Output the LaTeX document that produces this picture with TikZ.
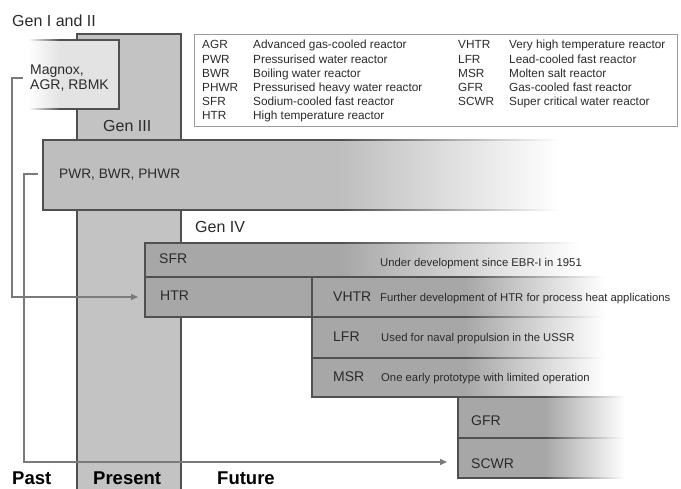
\documentclass[tikz,border=0pt]{standalone}
\usepackage{fontspec}
\setmainfont{Liberation Sans}
\usetikzlibrary{arrows.meta}
\definecolor{colfill}{HTML}{C3C3C3}
\definecolor{iiifill}{HTML}{BEBEBE}
\definecolor{ivfill}{HTML}{A7A7A7}
\definecolor{ifill}{HTML}{E3E3E3}
\definecolor{bcol}{HTML}{505050}
\definecolor{lcol}{HTML}{7A7A7A}
\definecolor{legcol}{HTML}{9A9A9A}
\definecolor{tcol}{HTML}{2A2A2A}
% #1 x0, #2 fade start, #3 fade end, #4 top, #5 bottom, #6 fill colour
\newcommand\myfadebar[6]{%
  \fill[#6] (#1,#4) rectangle (#2,#5);
  \shade[left color=#6, right color=white] (#2,#4) rectangle (#3,#5);
  \draw[bline] (#2,#4) -- (#1,#4) -- (#1,#5) -- (#2,#5);
  \shade[left color=bcol, right color=white] (#2,{#4-0.55}) rectangle (#3,{#4+0.55});
  \shade[left color=bcol, right color=white] (#2,{#5-0.55}) rectangle (#3,{#5+0.55});
}
\begin{document}
\begin{tikzpicture}[x=1pt,y=-1pt,
  bline/.style={draw=bcol, line width=1.1pt, line join=miter},
  conn/.style={draw=lcol, line width=1.4pt, -{Triangle[length=7pt,width=6pt]}},
  txt/.style={inner sep=0pt, anchor=base west, text=tcol},
  gen/.style={txt, font=\fontsize{16}{18}\selectfont},
  lbl/.style={txt, font=\fontsize{14}{16}\selectfont},
  dsc/.style={txt, font=\fontsize{11.3}{13}\selectfont},
  leg/.style={txt, font=\fontsize{11.8}{14}\selectfont},
  tl/.style={txt, text=black, font=\fontsize{18.5}{21}\selectfont\bfseries}]
\useasboundingbox (0,0) rectangle (681,489);

% Present column
\fill[colfill] (77,34) rectangle (181,492);
\draw[bline] (77,492) -- (77,34) -- (181,34) -- (181,492);

% legend box
\draw[legcol, line width=0.9pt] (194,34) rectangle (677,126);

% Gen I and II box
\fill[ifill] (60,40) rectangle (119,109);
\shade[left color=white, right color=ifill] (28,40) rectangle (60,109);
\draw[bline] (60,40) -- (119,40) -- (119,109) -- (60,109);
\shade[left color=white, right color=bcol] (28,39.45) rectangle (60,40.55);
\shade[left color=white, right color=bcol] (28,108.45) rectangle (60,109.55);

% Gen III bar
\myfadebar{43}{340}{560}{140}{210}{iiifill}

% Gen IV rows
\myfadebar{145}{340}{580}{243}{277}{ivfill}
\fill[ivfill] (145,277) rectangle (312,317);
\draw[bline] (145,277) rectangle (312,317);
\myfadebar{312}{465}{605}{277}{317}{ivfill}
\myfadebar{312}{465}{605}{317}{358}{ivfill}
\myfadebar{312}{465}{605}{358}{397}{ivfill}
\myfadebar{458}{545}{625}{397}{438}{ivfill}
\myfadebar{458}{545}{625}{438}{478}{ivfill}

% connectors
\coordinate (magbr) at (23,78);
\coordinate (htrW) at (145,297);
\coordinate (pwrbr) at (38,174);
\coordinate (scwrW) at (458,462);
\draw[conn, shorten >=7pt] (magbr) -- ++(-11,0) |- (htrW);
\draw[conn, shorten >=11pt] (pwrbr) -- ++(-14,0) |- (scwrW);

% titles
\node[gen] (g12) at (12,27) {Gen I and II};
\node[gen] (g3) at (103,132) {Gen III};
\node[gen] (g4) at (195,233) {Gen IV};

\node[lbl] (mag1) at (30,75) {Magnox,};
\node[lbl] (mag2) at (30,90) {AGR, RBMK};
\node[txt, font=\fontsize{13.7}{15}\selectfont] (pwr) at (59,179) {PWR, BWR, PHWR};

\node[lbl] (sfr) at (159,264) {SFR};
\node[dsc] (sfrd) at (380,267) {Under development since EBR-I in 1951};
\node[lbl] (htr) at (160,301) {HTR};
\node[lbl] (vhtr) at (333,302) {VHTR};
\node[dsc] (vhtrd) at (380,302) {Further development of HTR for process heat applications};
\node[lbl] (lfr) at (333,342) {LFR};
\node[dsc] (lfrd) at (381,342) {Used for naval propulsion in the USSR};
\node[lbl] (msr) at (333,382) {MSR};
\node[dsc] (msrd) at (381,382) {One early prototype with limited operation};
\node[lbl] (gfr) at (471,426) {GFR};
\node[lbl] (scwr) at (471,468) {SCWR};

% legend
\foreach \a/\d [count=\i from 0] in {AGR/Advanced gas-cooled reactor, PWR/Pressurised water reactor, BWR/Boiling water reactor, PHWR/Pressurised heavy water reactor, SFR/Sodium-cooled fast reactor, HTR/High temperature reactor}{
  \node[leg] (la\i) at (202,{49+14.2*\i}) {\a};
  \node[leg] (ld\i) at (253,{49+14.2*\i}) {\d};
}
\foreach \a/\d [count=\i from 0] in {VHTR/Very high temperature reactor, LFR/Lead-cooled fast reactor, MSR/Molten salt reactor, GFR/Gas-cooled fast reactor, SCWR/Super critical water reactor}{
  \node[leg] (lb\i) at (458,{49+14.2*\i}) {\a};
  \node[leg] (le\i) at (509,{49+14.2*\i}) {\d};
}

% time labels
\node[tl] (past) at (12,485) {Past};
\node[tl] (present) at (93,485) {Present};
\node[tl] (future) at (217,485) {Future};
\end{tikzpicture}
\end{document}
